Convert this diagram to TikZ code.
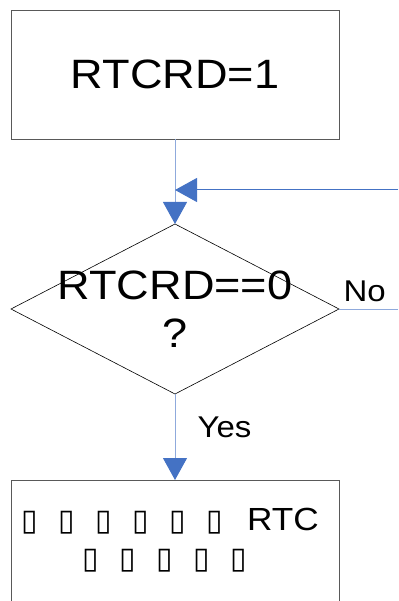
\documentclass[tikz,border=0pt]{standalone}
\usepackage{fontspec}
\setmainfont{Liberation Sans}
\newfontfamily\flowfont[FakeStretch=1.1]{Liberation Sans}
\newfontfamily\glyphfont{DejaVu Sans}
\usetikzlibrary{arrows.meta,positioning,shapes.geometric}
\definecolor{framegray}{HTML}{595959}
\definecolor{flowblue}{HTML}{4472C4}
\definecolor{paleblue}{HTML}{8FAADC}
\newcommand{\tofu}{\makebox[37pt]{\glyphfont\fontsize{30}{38}\selectfont ▯}}
\tikzset{
  stepbox/.style={draw=framegray, line width=0.9pt, minimum width=328pt, inner sep=0pt, outer sep=0pt},
  testnode/.style={diamond, draw=black, line width=0.6pt, minimum width=328pt, minimum height=170pt, inner sep=0pt, outer sep=0pt},
  bigtext/.style={font=\flowfont\fontsize{41}{48}\selectfont, align=center, inner sep=0pt},
  tagtext/.style={font=\flowfont\fontsize{30}{36}\selectfont, inner sep=0pt},
  bodytext/.style={font=\flowfont\fontsize{32}{38}\selectfont, align=center, inner sep=0pt},
  flow/.style={-{Triangle[length=22pt, width=24pt, color=flowblue]}, draw=paleblue, line width=1pt},
  backflow/.style={flow, draw=flowblue},
  plainflow/.style={draw=paleblue, line width=1pt}
}

\begin{document}
\begin{tikzpicture}[x=1pt, y=-1pt]
  \clip (0,0) rectangle (398,601);
  % steps
  \node[stepbox, minimum height=129pt, bigtext] (setrd) at (175,74.5) {RTCRD=1};
  \node[testnode] (check) at (175,309) {};
  \node[bigtext] (checktext) at (check.center) {RTCRD==0\\?};
  \node[stepbox, minimum height=160pt, anchor=north] (readrtc) at (175,480) {};
  \node[bodytext, anchor=north, xshift=-10pt, yshift=-28pt] (readtext) at (readrtc.north)
    {\tofu\tofu\tofu\tofu\tofu\tofu\hspace{14pt}RTC\\\tofu\tofu\tofu\tofu\tofu};
  % loose ends
  \coordinate (loopin) at (398,190);
  \coordinate (merge) at (setrd.south |- loopin);
  \coordinate (noout) at (398,309);
  % connectors
  \draw[flow] (setrd) -- (check);
  \draw[backflow] (loopin) -- (merge);
  \draw[plainflow] (check.east) -- node[tagtext, pos=0, anchor=base west, xshift=4pt, yshift=8pt] {No} (noout);
  \draw[flow] (check.south) -- node[tagtext, anchor=base west, xshift=22pt] {Yes} (readrtc.north);
\end{tikzpicture}
\end{document}
